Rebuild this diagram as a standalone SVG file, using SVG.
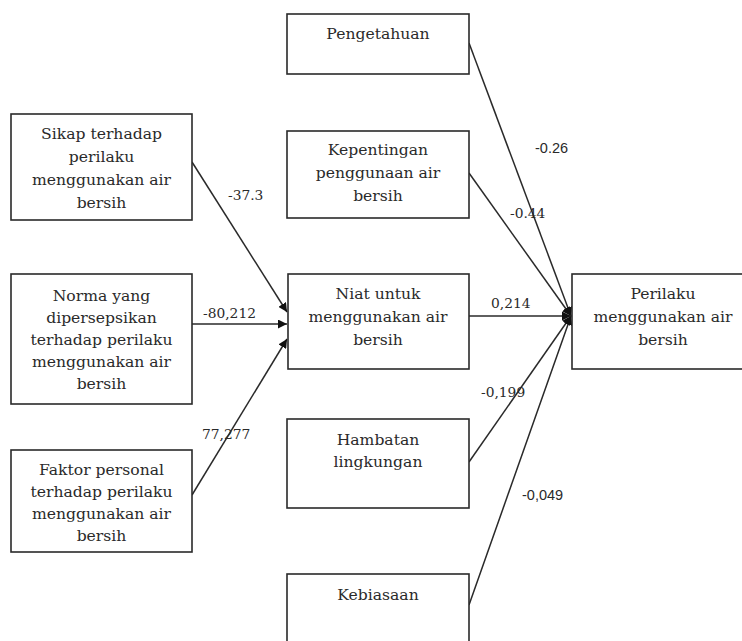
<svg xmlns="http://www.w3.org/2000/svg" width="742" height="641" viewBox="0 0 742 641">
<style>
.box{fill:#fff;stroke:#2a2a2a;stroke-width:1.6}
.t{font-family:"DejaVu Serif","Liberation Serif",serif;font-size:15.6px;fill:#2a2a2a;text-anchor:middle}
.n{font-family:"DejaVu Serif","Liberation Serif",serif;font-size:13.8px;fill:#2a2a2a}
.ns{font-family:"Liberation Sans",Arial,sans-serif;font-size:14.5px;fill:#2a2a2a}
.c{stroke:#2a2a2a;stroke-width:1.5;fill:none}
</style>
<defs>
<marker id="ah" viewBox="0 0 10 10" refX="10" refY="5" markerWidth="9" markerHeight="9" markerUnits="userSpaceOnUse" orient="auto">
<path d="M0,0 L10,5 L0,10 Z" fill="#111"/>
</marker>
</defs>
<rect width="742" height="641" fill="#fff"/>
<g id="connectors">
<line class="c" x1="192" y1="162" x2="287" y2="312" marker-end="url(#ah)"/>
<line class="c" x1="192" y1="324" x2="287" y2="324" marker-end="url(#ah)"/>
<line class="c" x1="192" y1="495" x2="287" y2="339" marker-end="url(#ah)"/>
<line class="c" x1="469" y1="43" x2="571" y2="316" marker-end="url(#ah)"/>
<line class="c" x1="469" y1="173" x2="571" y2="316" marker-end="url(#ah)"/>
<line class="c" x1="469" y1="316" x2="571" y2="316" marker-end="url(#ah)"/>
<line class="c" x1="469" y1="462" x2="571" y2="316" marker-end="url(#ah)"/>
<line class="c" x1="469" y1="605" x2="571" y2="316" marker-end="url(#ah)"/>
<text class="n" x="228" y="200">-37.3</text>
<text class="n" x="203" y="318">-80,212</text>
<text class="n" x="202" y="439">77,277</text>
<text class="ns" x="535" y="153">-0.26</text>
<text class="n" x="510" y="218">-0.44</text>
<text class="n" x="491" y="308">0,214</text>
<text class="n" x="481" y="397">-0,199</text>
<text class="ns" x="522" y="500">-0,049</text>
</g>
<g id="sikap">
<rect class="box" x="11" y="114" width="181" height="106"/>
<text class="t" x="101.5" y="139">Sikap terhadap</text>
<text class="t" x="101.5" y="162">perilaku</text>
<text class="t" x="101.5" y="185">menggunakan air</text>
<text class="t" x="101.5" y="208">bersih</text>
</g>
<g id="norma">
<rect class="box" x="11" y="274" width="181" height="130"/>
<text class="t" x="101.5" y="301">Norma yang</text>
<text class="t" x="101.5" y="323">dipersepsikan</text>
<text class="t" x="101.5" y="345">terhadap perilaku</text>
<text class="t" x="101.5" y="367">menggunakan air</text>
<text class="t" x="101.5" y="389">bersih</text>
</g>
<g id="faktor">
<rect class="box" x="11" y="450" width="181" height="102"/>
<text class="t" x="101.5" y="475">Faktor personal</text>
<text class="t" x="101.5" y="497">terhadap perilaku</text>
<text class="t" x="101.5" y="519">menggunakan air</text>
<text class="t" x="101.5" y="541">bersih</text>
</g>
<g id="pengetahuan">
<rect class="box" x="287" y="14" width="182" height="60"/>
<text class="t" x="378" y="39">Pengetahuan</text>
</g>
<g id="kepentingan">
<rect class="box" x="287" y="131" width="182" height="87"/>
<text class="t" x="378" y="155">Kepentingan</text>
<text class="t" x="378" y="178">penggunaan air</text>
<text class="t" x="378" y="201">bersih</text>
</g>
<g id="niat">
<rect class="box" x="288" y="274" width="181" height="95"/>
<text class="t" x="378" y="299">Niat untuk</text>
<text class="t" x="378" y="322">menggunakan air</text>
<text class="t" x="378" y="345">bersih</text>
</g>
<g id="hambatan">
<rect class="box" x="287" y="419" width="182" height="89"/>
<text class="t" x="378" y="445">Hambatan</text>
<text class="t" x="378" y="467">lingkungan</text>
</g>
<g id="kebiasaan">
<rect class="box" x="287" y="574" width="182" height="80"/>
<text class="t" x="378" y="600">Kebiasaan</text>
</g>
<g id="perilaku">
<rect class="box" x="572" y="274" width="182" height="95"/>
<text class="t" x="663" y="299">Perilaku</text>
<text class="t" x="663" y="322">menggunakan air</text>
<text class="t" x="663" y="345">bersih</text>
</g>
</svg>
